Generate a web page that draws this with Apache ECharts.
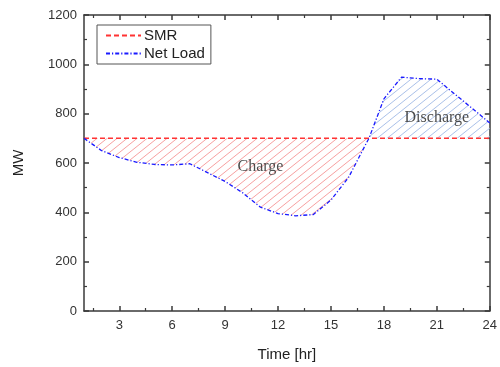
<!DOCTYPE html>
<html>
<head>
<meta charset="utf-8">
<script src="https://cdn.jsdelivr.net/npm/echarts@6/dist/echarts.min.js"></script>
<style>html,body{margin:0;padding:0;background:#fff;}#c{width:500px;height:367px;}</style>
</head>
<body>
<div id="c"></div>
<script>
// ---- data ----
var hours   = [1, 2, 3, 4, 5, 6, 7, 8, 9, 10, 11, 12, 13, 14, 15, 16, 17, 17.15, 18, 19, 20, 21, 22, 23, 24];
var netLoad = [700, 650, 622, 603, 594, 592, 597, 561, 525, 479, 421, 395, 386, 391, 450, 542, 680, 700, 860, 948, 942, 940, 880, 822, 762];
var smrLevel = 700;
var xTickLabels = [3, 6, 9, 12, 15, 18, 21, 24];
var xMinorTicks = [1.5, 4.5, 7.5, 10.5, 13.5, 16.5, 19.5, 22.5];
var areaLabels = [
  { name: 'Charge', x: 11, y: 583 },
  { name: 'Discharge', x: 21, y: 785 }
];

function hatch(color) {
  var c = document.createElement('canvas');
  c.width = 10; c.height = 8;
  var g = c.getContext('2d');
  g.strokeStyle = color; g.lineWidth = 1;
  g.beginPath();
  g.moveTo(-2, 9.6); g.lineTo(12, -1.6);
  g.moveTo(-12, 9.6); g.lineTo(2, -1.6);
  g.moveTo(8, 9.6); g.lineTo(22, -1.6);
  g.stroke();
  return { image: c, repeat: 'repeat' };
}

var netPts = hours.map(function (h, i) { return [h, netLoad[i]]; });
var smrPts = [[1, smrLevel], [24, smrLevel]];
var chargePts = hours.map(function (h, i) { return [h, Math.min(netLoad[i], smrLevel)]; });
var dischargePts = hours.map(function (h, i) { return [h, Math.max(netLoad[i], smrLevel)]; });

var axisColor = '#3a3a3a';
var fontSans = '"Liberation Sans", Arial, sans-serif';

var chart = echarts.init(document.getElementById('c'), null, { renderer: 'canvas' });
chart.setOption({
  animation: false,
  backgroundColor: '#fff',
  grid: { left: 84, right: 7, top: 15, bottom: 50, containLabel: false },
  legend: {
    data: ['SMR', 'Net Load'],
    orient: 'vertical',
    left: 97, top: 25,
    borderColor: '#555', borderWidth: 1,
    padding: [3, 6, 3, 8],
    itemGap: 3,
    itemWidth: 35, itemHeight: 14,
    itemStyle: { opacity: 0 },
    textStyle: { fontFamily: fontSans, fontSize: 15, color: '#222', padding: [0, 0, 0, -2] }
  },
  xAxis: [
    { type: 'value', min: 1, max: 24, position: 'bottom',
      name: 'Time [hr]', nameLocation: 'middle', nameGap: 36,
      nameTextStyle: { fontFamily: fontSans, fontSize: 15, color: '#222' },
      axisLine: { show: true, lineStyle: { color: axisColor, width: 1.5 } },
      axisTick: { show: true, inside: true, length: 5, customValues: xTickLabels, lineStyle: { color: axisColor, width: 1.5 } },
      axisLabel: { customValues: xTickLabels, fontFamily: fontSans, fontSize: 13, color: '#333', margin: 8 },
      splitLine: { show: false } },
    { type: 'value', min: 1, max: 24, position: 'bottom',
      axisLine: { show: false },
      axisTick: { show: true, inside: true, length: 3, customValues: xMinorTicks, lineStyle: { color: axisColor, width: 1.2 } },
      axisLabel: { show: false }, splitLine: { show: false } },
    { type: 'value', min: 1, max: 24, position: 'top',
      axisLine: { show: true, lineStyle: { color: axisColor, width: 1.5 } },
      axisTick: { show: true, inside: true, length: 5, customValues: xTickLabels, lineStyle: { color: axisColor, width: 1.5 } },
      axisLabel: { show: false }, splitLine: { show: false } },
    { type: 'value', min: 1, max: 24, position: 'top',
      axisLine: { show: false },
      axisTick: { show: true, inside: true, length: 3, customValues: xMinorTicks, lineStyle: { color: axisColor, width: 1.2 } },
      axisLabel: { show: false }, splitLine: { show: false } }
  ],
  yAxis: [
    { type: 'value', min: 0, max: 1200, interval: 200, position: 'left',
      name: 'MW', nameLocation: 'middle', nameGap: 58, nameRotate: 90,
      nameTextStyle: { fontFamily: fontSans, fontSize: 15, color: '#222' },
      axisLine: { show: true, lineStyle: { color: axisColor, width: 1.5 } },
      axisTick: { show: true, inside: true, length: 5, lineStyle: { color: axisColor, width: 1.5 } },
      minorTick: { show: true, splitNumber: 2, length: 3, lineStyle: { color: axisColor, width: 1.2 } },
      axisLabel: { fontFamily: fontSans, fontSize: 13, color: '#333', margin: 7,
        formatter: function (v) { return String(v); } },
      splitLine: { show: false } },
    { type: 'value', min: 0, max: 1200, interval: 200, position: 'right',
      axisLine: { show: true, lineStyle: { color: axisColor, width: 1.5 } },
      axisTick: { show: true, inside: true, length: 5, lineStyle: { color: axisColor, width: 1.5 } },
      minorTick: { show: true, splitNumber: 2, length: 3, lineStyle: { color: axisColor, width: 1.2 } },
      axisLabel: { show: false }, splitLine: { show: false } }
  ],
  series: [
    { name: 'chargeFill', type: 'line', data: chargePts, symbol: 'none',
      lineStyle: { width: 0, opacity: 0 },
      areaStyle: { origin: smrLevel, color: hatch('rgba(245,150,150,0.9)'), opacity: 1 },
      silent: true, z: 1 },
    { name: 'dischargeFill', type: 'line', data: dischargePts, symbol: 'none',
      lineStyle: { width: 0, opacity: 0 },
      areaStyle: { origin: smrLevel, color: hatch('rgba(160,185,230,0.9)'), opacity: 1 },
      silent: true, z: 1 },
    { name: 'SMR', type: 'line', data: smrPts, symbol: 'none', color: '#ff3333',
      lineStyle: { color: '#ff3333', width: 1.5, type: [5, 3] }, z: 3 },
    { name: 'Net Load', type: 'line', data: netPts, symbol: 'none', color: '#1a1aff',
      lineStyle: { color: '#1a1aff', width: 1.3, type: [4, 2, 1.2, 2] }, z: 4 },
    { name: 'labels', type: 'scatter', symbolSize: 0, silent: true, z: 5,
      data: areaLabels.map(function (d) { return { name: d.name, value: [d.x, d.y] }; }),
      label: { show: true, position: 'inside', formatter: '{b}',
        fontFamily: '"Liberation Serif", "Times New Roman", serif', fontSize: 16, color: '#222' } }
  ]
});
</script>
</body>
</html>
